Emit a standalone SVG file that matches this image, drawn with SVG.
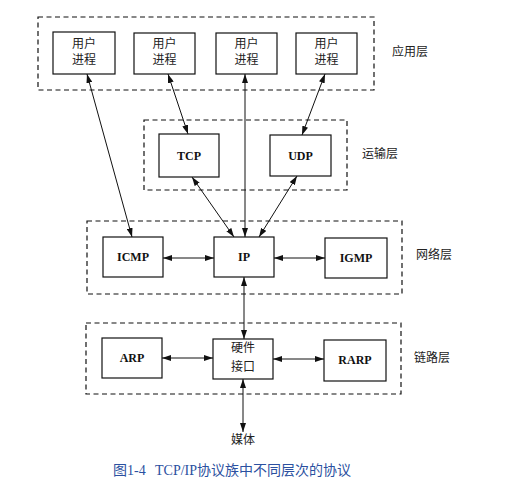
<svg xmlns="http://www.w3.org/2000/svg" width="509" height="482" viewBox="0 0 509 482">
<style>
.layer{fill:none;stroke:#111;stroke-width:1.2;stroke-dasharray:5,3.5}
.box{fill:#fff;stroke:#111;stroke-width:1.2}
.cn{font-family:"Noto Sans CJK SC",sans-serif;font-size:12px;fill:#222;text-anchor:middle}
.en{font-family:"Liberation Serif",serif;font-size:12px;font-weight:bold;fill:#111;text-anchor:middle}
.lbl{font-family:"Noto Sans CJK SC",sans-serif;font-size:12px;fill:#222}
.cap{font-family:"Liberation Serif","Noto Sans CJK SC",serif;font-size:14px;fill:#2b50a0}
.conn line{stroke:#111;stroke-width:1;marker-start:url(#ah);marker-end:url(#ah)}
</style>
<defs>
<marker id="ah" viewBox="0 0 9 6" refX="9" refY="3" markerWidth="9" markerHeight="6" markerUnits="userSpaceOnUse" orient="auto-start-reverse">
<path d="M0,0 L9,3 L0,6 z" fill="#111"/>
</marker>
</defs>
<rect width="509" height="482" fill="#fff"/>

<g id="layers">
<rect class="layer" x="38" y="17" width="336" height="73"/>
<rect class="layer" x="144" y="120" width="203" height="70"/>
<rect class="layer" x="87" y="221" width="315" height="73"/>
<rect class="layer" x="86" y="323" width="315" height="71"/>
<text class="lbl" x="392" y="56">应用层</text>
<text class="lbl" x="362" y="158">运输层</text>
<text class="lbl" x="416" y="259">网络层</text>
<text class="lbl" x="414" y="362">链路层</text>
</g>

<g id="connectors" class="conn">
<line x1="87" y1="74" x2="132" y2="237"/>
<line x1="168" y1="74" x2="188" y2="134"/>
<line x1="245" y1="74" x2="245" y2="237"/>
<line x1="325" y1="74" x2="302" y2="135"/>
<line x1="192" y1="177" x2="234" y2="237"/>
<line x1="297" y1="176" x2="259" y2="237"/>
<line x1="163" y1="258" x2="214" y2="258"/>
<line x1="274" y1="258" x2="325" y2="258"/>
<line x1="244" y1="277" x2="244" y2="339"/>
<line x1="162" y1="358" x2="213" y2="358"/>
<line x1="273" y1="359" x2="324" y2="359"/>
<line x1="243" y1="379" x2="243" y2="432"/>
</g>

<g id="user1"><rect class="box" x="53" y="32" width="62" height="42"/><text class="cn" x="84" y="48">用户</text><text class="cn" x="84" y="64">进程</text></g>
<g id="user2"><rect class="box" x="134" y="33" width="61" height="41"/><text class="cn" x="164.5" y="48">用户</text><text class="cn" x="164.5" y="64">进程</text></g>
<g id="user3"><rect class="box" x="216" y="33" width="61" height="41"/><text class="cn" x="246.5" y="48">用户</text><text class="cn" x="246.5" y="64">进程</text></g>
<g id="user4"><rect class="box" x="296" y="33" width="61" height="41"/><text class="cn" x="326.5" y="48">用户</text><text class="cn" x="326.5" y="64">进程</text></g>

<g id="tcp"><rect class="box" x="159" y="134" width="60" height="43"/><text class="en" x="189" y="160">TCP</text></g>
<g id="udp"><rect class="box" x="270" y="135" width="61" height="41"/><text class="en" x="300.5" y="160">UDP</text></g>

<g id="icmp"><rect class="box" x="103" y="237" width="60" height="40"/><text class="en" x="133" y="261">ICMP</text></g>
<g id="ip"><rect class="box" x="214" y="237" width="60" height="40"/><text class="en" x="244" y="261">IP</text></g>
<g id="igmp"><rect class="box" x="325" y="238" width="62" height="40"/><text class="en" x="356" y="262">IGMP</text></g>

<g id="arp"><rect class="box" x="102" y="338" width="60" height="40"/><text class="en" x="132" y="362">ARP</text></g>
<g id="hw"><rect class="box" x="213" y="339" width="60" height="40"/><text class="cn" x="243" y="352">硬件</text><text class="cn" x="243" y="371">接口</text></g>
<g id="rarp"><rect class="box" x="324" y="340" width="62" height="41"/><text class="en" x="355" y="364">RARP</text></g>

<g id="media"><text class="cn" x="243" y="444">媒体</text></g>

<text class="cap" y="475"><tspan x="113">图1-4</tspan><tspan x="155">TCP/IP协议族中不同层次的协议</tspan></text>
</svg>
